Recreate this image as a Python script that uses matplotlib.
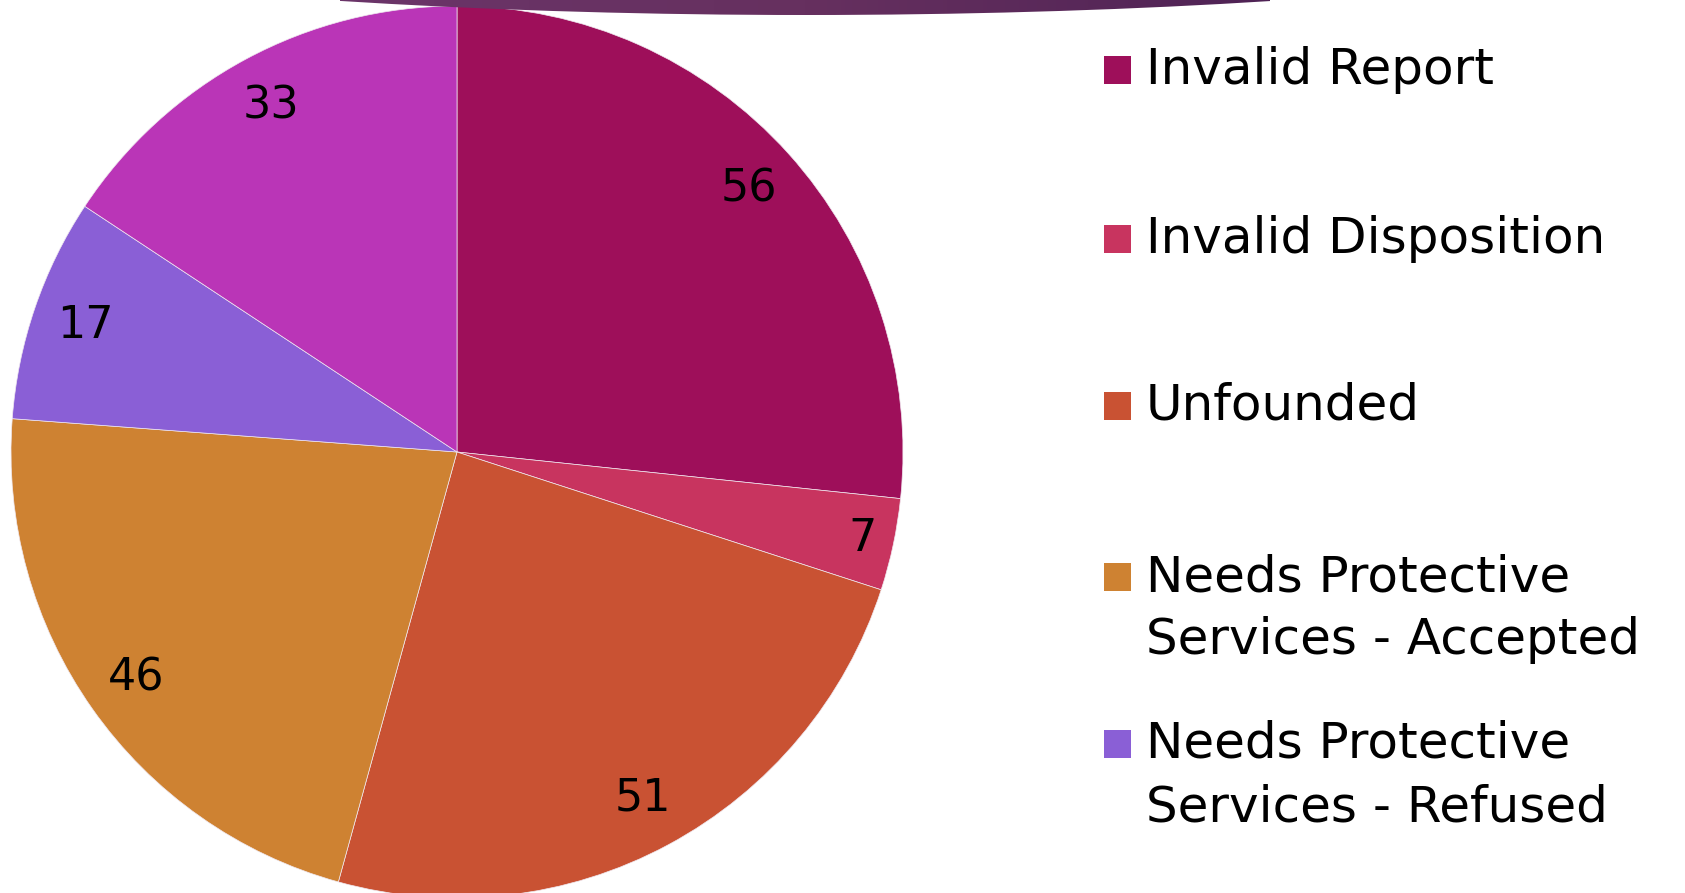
import numpy as np
import matplotlib
matplotlib.use("Agg")
import matplotlib.pyplot as plt
from matplotlib.patches import Ellipse, Rectangle
from matplotlib.colors import LinearSegmentedColormap

categories = [
    "Invalid Report",
    "Invalid Disposition",
    "Unfounded",
    "Needs Protective\nServices - Accepted",
    "Needs Protective\nServices - Refused",
    "Other",
]
values = [56, 7, 51, 46, 17, 33]
colors = ["#9E0F5A", "#C8345F", "#C95233", "#CE8232", "#8A5FD6", "#BA35B7"]
# only the first five legend rows fit on the slide
legend_shown = 5

W, H = 1685, 893
fig = plt.figure(figsize=(W / 100, H / 100), dpi=100)
fig.patch.set_facecolor("white")

# pie axes, sized in pixels so the circle is cropped like the slide
cx, cy, r = 457, 452, 446
ax = fig.add_axes([(cx - r) / W, (H - cy - r) / H, 2 * r / W, 2 * r / H])
wedges, texts, autotexts = ax.pie(
    values,
    colors=colors,
    startangle=90,
    counterclock=False,
    autopct=lambda p: "%d" % round(p * sum(values) / 100.0),
    pctdistance=0.88,
    wedgeprops=dict(edgecolor="#f0e8f0", linewidth=0.5),
    textprops=dict(fontsize=32, color="black", family="DejaVu Sans"),
)
ax.set_xlim(-1, 1)
ax.set_ylim(-1, 1)
ax.set_aspect("auto")
ax.axis("off")

# small slice label sits a bit further out
for w, t, v in zip(wedges, autotexts, values):
    if v < 10:
        mid = np.deg2rad((w.theta1 + w.theta2) / 2)
        t.set_position((0.93 * np.cos(mid), 0.93 * np.sin(mid)))

# overlay in pixel coords for the header shape and legend
ov = fig.add_axes([0, 0, 1, 1], zorder=5)
ov.set_xlim(0, W)
ov.set_ylim(H, 0)
ov.axis("off")
ov.patch.set_alpha(0)

arc = Ellipse((806, -150), 2 * 1153, 2 * 165, facecolor="none", edgecolor="none")
ov.add_patch(arc)
cmap = LinearSegmentedColormap.from_list("hdr", ["#6B3569", "#66305F", "#4F2355"])
grad = np.linspace(0, 1, 256).reshape(1, -1)
im = ov.imshow(grad, cmap=cmap, extent=[340, 1270, 16, 0], aspect="auto")
im.set_clip_path(arc)
ov.set_xlim(0, W)
ov.set_ylim(H, 0)

# legend
row_y = [70, 239, 406, 577, 744]
line_gap = 63
for name, col, y in zip(categories[:legend_shown], colors, row_y):
    ov.add_patch(Rectangle((1104, y - 14), 27, 28, facecolor=col, edgecolor="none"))
    for k, line in enumerate(name.split("\n")):
        ov.text(1146, y + k * line_gap, line, fontsize=36, va="center", ha="left",
                color="black", family="DejaVu Sans")

fig.savefig("out.png", dpi=100)
